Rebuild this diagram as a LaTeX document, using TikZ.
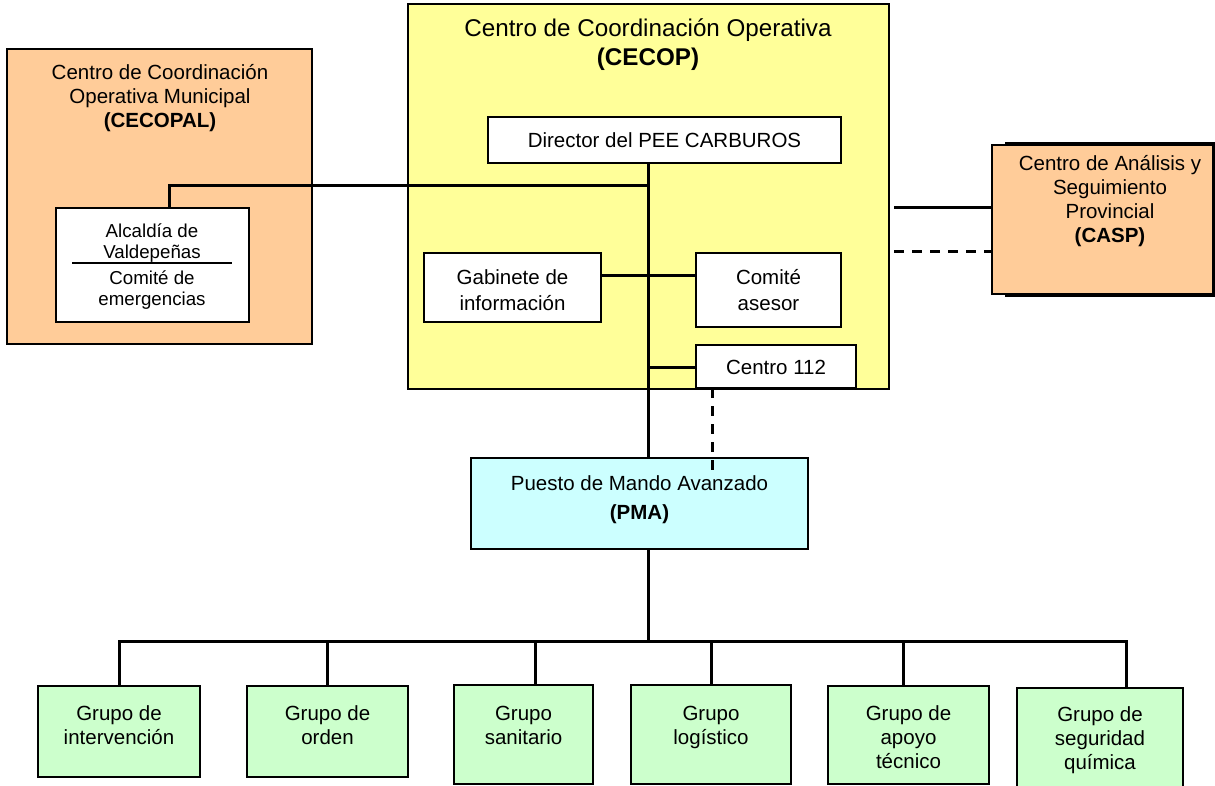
\documentclass[tikz,border=0pt]{standalone}
\usepackage{fontspec}
\setmainfont{Liberation Sans}
\definecolor{peach}{HTML}{FFCC99}
\definecolor{lyellow}{HTML}{FFFF99}
\definecolor{lcyan}{HTML}{CCFFFF}
\definecolor{lgreen}{HTML}{CCFFCC}
\begin{document}
\begin{tikzpicture}[x=1pt,y=-1pt,
  box/.style={draw=black, line width=2pt, inner sep=0pt, outer sep=0pt, anchor=north west},
  conn/.style={line width=3pt, draw=black},
  dconn/.style={line width=3pt, draw=black, dash pattern=on 10pt off 8pt},
  txt/.style={font=\fontsize{20.5}{24}\selectfont, align=center, inner sep=0pt},
  txtw/.style={font=\fontsize{20.5}{25.5}\selectfont, align=center, inner sep=0pt},
  ttl/.style={font=\fontsize{24.2}{29}\selectfont, align=center, inner sep=0pt},
  sml/.style={font=\fontsize{18.7}{21}\selectfont, align=center, inner sep=0pt}]
\useasboundingbox (0,0) rectangle (1215,785);

% big containers
\node[box, fill=peach, minimum width=305pt, minimum height=295pt] (cecopal) at (7,49) {};
\node[box, fill=lyellow, minimum width=481pt, minimum height=385pt] (cecop) at (408,4) {};
\node[box, draw=none, fill=black, minimum width=220pt, minimum height=155pt] (caspsh) at (1005,142) {};
\node[box, fill=peach, minimum width=221pt, minimum height=149pt] (casp) at (992,145) {};

% inner boxes
\node[box, fill=white, minimum width=193pt, minimum height=114pt] (alc) at (56,208) {};
\node[box, fill=white, minimum width=353pt, minimum height=46pt] (dir) at (488,117) {};
\node[box, fill=white, minimum width=177pt, minimum height=69pt] (gab) at (424,253) {};
\node[box, fill=white, minimum width=145pt, minimum height=74pt] (com) at (696,253) {};
\node[box, fill=white, minimum width=160pt, minimum height=43pt] (c112) at (696,345) {};
\node[box, fill=lcyan, minimum width=337pt, minimum height=91pt] (pma) at (471,458) {};

% groups
\node[box, fill=lgreen, minimum width=162pt, minimum height=91pt] (g1) at (38,686) {};
\node[box, fill=lgreen, minimum width=161pt, minimum height=91pt] (g2) at (247,686) {};
\node[box, fill=lgreen, minimum width=139pt, minimum height=99pt] (g3) at (454,685) {};
\node[box, fill=lgreen, minimum width=160pt, minimum height=99pt] (g4) at (631,685) {};
\node[box, fill=lgreen, minimum width=161pt, minimum height=98pt] (g5) at (828,686) {};
\node[box, fill=lgreen, minimum width=166pt, minimum height=99pt] (g6) at (1017,688) {};

% texts
\node[ttl] (tcecop) at (648,45) {Centro de Coordinación Operativa\\\textbf{(CECOP)}};
\node[txt] (tcecopal) at (160,98.5) {Centro de Coordinación\\Operativa Municipal\\\textbf{(CECOPAL)}};
\node[txt] (tcasp) at (1110,201) {Centro de Análisis y\\Seguimiento\\Provincial\\\textbf{(CASP)}};
\node[sml] (talc1) at (152,243.5) {Alcaldía de\\Valdepeñas};
\node[sml] (talc2) at (152,290.5) {Comité de\\emergencias};
\draw[line width=2pt] (72,263) -- (232,263);
\node[txt] (tdir) at (dir.center) {Director del PEE CARBUROS};
\node[txtw] (tgab) at (512.5,290) {Gabinete de\\información};
\node[txtw] (tcom) at (768.5,290) {Comité\\asesor};
\node[txt] (tc112) at (776,367.5) {Centro 112};
\node[txt] (tpma) at (639.5,499.5) {Puesto de Mando Avanzado\\[5pt]\textbf{(PMA)}};
\node[txt] (tg1) at (119,725.5) {Grupo de\\intervención};
\node[txt] (tg2) at (327.5,725.5) {Grupo de\\orden};
\node[txt] (tg3) at (523.5,725) {Grupo\\sanitario};
\node[txt] (tg4) at (711,727) {Grupo\\logístico};
\node[txt] (tg5) at (908.5,737) {Grupo de\\apoyo\\técnico};
\node[txt] (tg6) at (1100,740) {Grupo de\\seguridad\\química};

% coordinates
\coordinate (sp) at (648,0);
\coordinate (j1) at (648,185);
\coordinate (a1) at (169,185);
\coordinate (j2) at (648,275);
\coordinate (j3) at (648,367);
\coordinate (dd) at (712,473);
\coordinate (cs1) at (894,207);
\coordinate (cs2) at (894,251);
\coordinate (b1) at (119,641);
\coordinate (b2) at (327,641);
\coordinate (b3) at (535,641);
\coordinate (b4) at (711,641);
\coordinate (b5) at (903,641);
\coordinate (b6) at (1126,641);
\coordinate (bm) at (648,641);

% connectors
\draw[conn] (dir.south -| sp) -- (pma.north -| sp);
\draw[conn] (alc.north -| a1) -- (a1) -- (j1);
\draw[conn] (gab.east |- j2) -- (com.west |- j2);
\draw[conn] (j3) -- (c112.west |- j3);
\draw[dconn] (c112.south -| dd) -- (dd);
\draw[conn] (cs1) -- (casp.west |- cs1);
\draw[dconn] (cs2) -- (casp.west |- cs2);
\draw[conn] (pma.south -| bm) -- (bm);
\draw[conn] (g1.north -| b1) -- (b1) -- (b6) -- (g6.north -| b6);
\draw[conn] (b2) -- (g2.north -| b2);
\draw[conn] (b3) -- (g3.north -| b3);
\draw[conn] (b4) -- (g4.north -| b4);
\draw[conn] (b5) -- (g5.north -| b5);
\end{tikzpicture}
\end{document}
